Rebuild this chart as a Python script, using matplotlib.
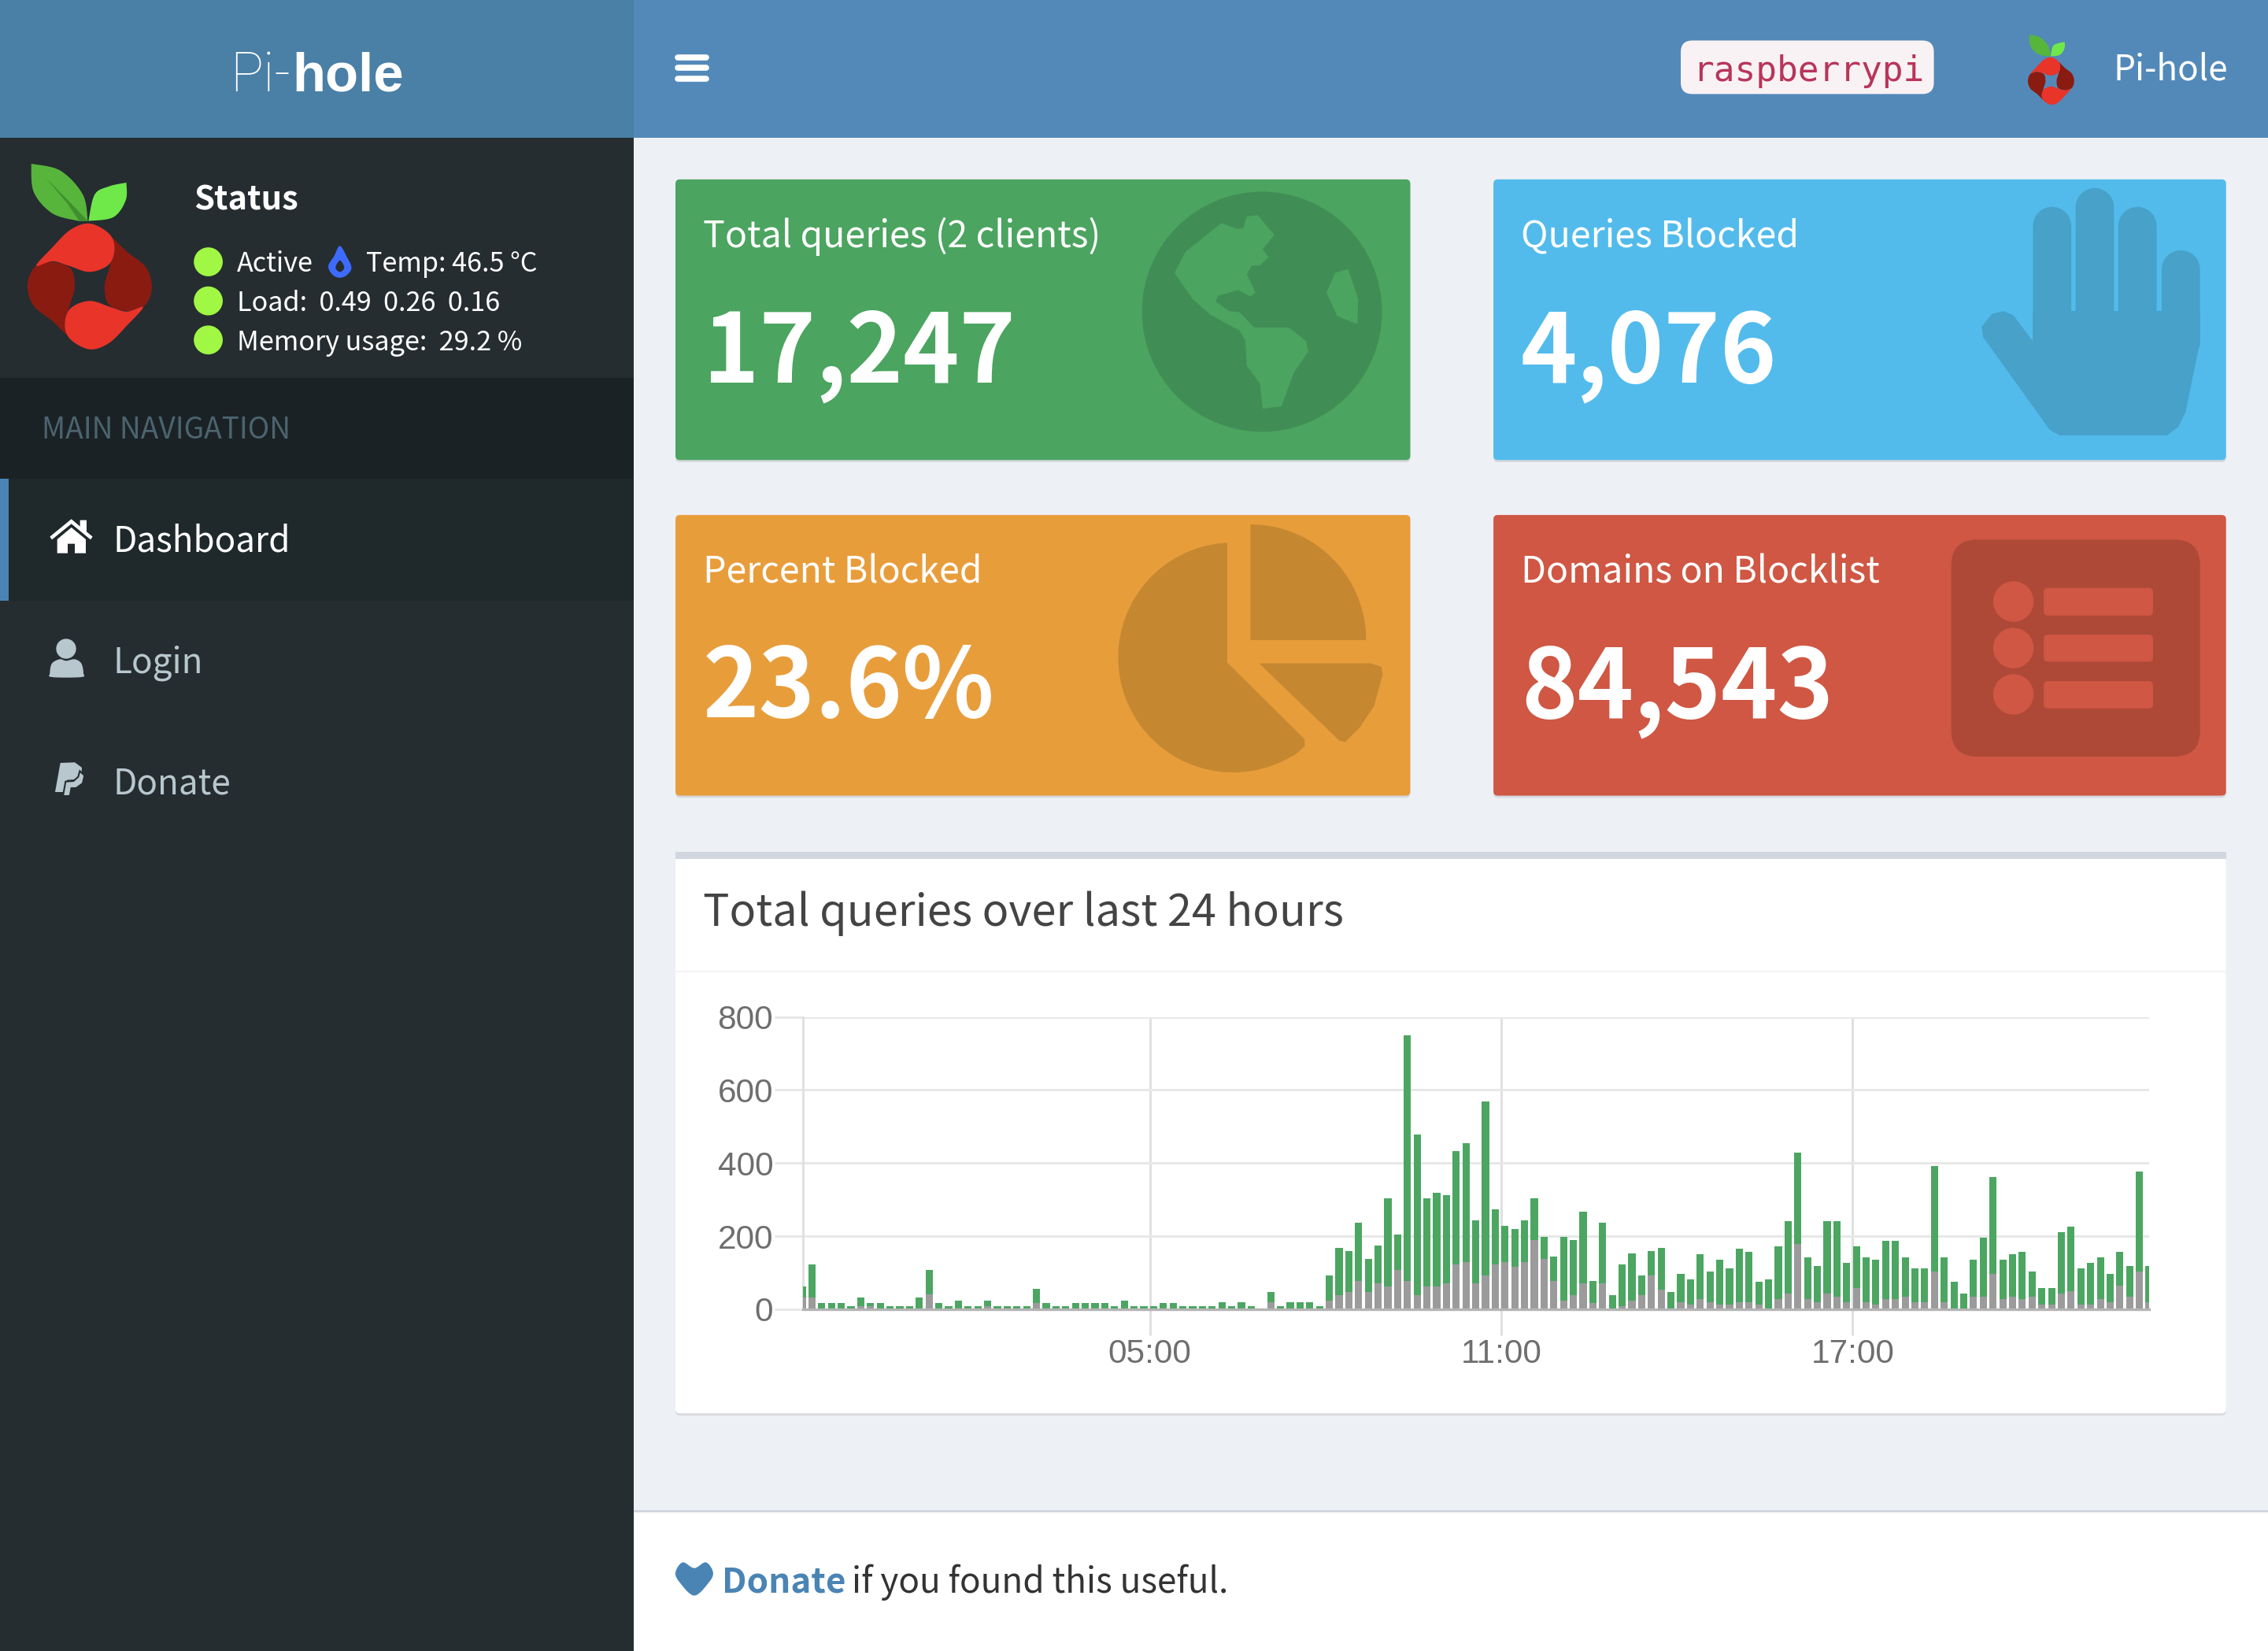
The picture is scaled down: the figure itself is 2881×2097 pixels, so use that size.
import numpy as np
import matplotlib
matplotlib.use('Agg')
import matplotlib.pyplot as plt
from matplotlib.patches import Rectangle, FancyBboxPatch, Circle, Polygon

# values, one bar per 10 minutes
total_queries = [63, 123, 17, 17, 17, 9, 32, 17, 17, 9, 9, 9, 32, 108, 17, 9, 24, 9, 9, 24,
                 9, 9, 9, 9, 55, 17, 9, 9, 17, 17, 17, 17, 9, 24, 9, 9, 9, 17, 17, 9,
                 9, 9, 9, 18, 9, 18, 9, 0, 48, 9, 18, 18, 18, 9, 92, 168, 160, 236, 137, 175,
                 304, 205, 750, 478, 304, 319, 312, 432, 455, 243, 568, 273, 228, 220, 243, 304, 198, 145, 198, 190,
                 266, 77, 236, 39, 122, 152, 92, 160, 168, 47, 96, 81, 150, 104, 135, 112, 165, 158, 74, 81,
                 172, 240, 429, 142, 119, 240, 240, 127, 172, 142, 135, 187, 187, 142, 112, 112, 391, 142, 74, 43,
                 135, 195, 361, 135, 150, 158, 104, 58, 58, 210, 225, 112, 127, 142, 96, 158, 119, 376, 119]
blocked_queries = [32, 32, 0, 0, 0, 0, 9, 9, 0, 0, 0, 0, 0, 40, 0, 0, 0, 0, 0, 9,
                   0, 0, 0, 0, 17, 0, 0, 0, 0, 0, 0, 0, 0, 0, 0, 0, 0, 0, 0, 0,
                   0, 0, 0, 0, 0, 0, 0, 0, 18, 0, 0, 0, 0, 0, 24, 39, 47, 77, 47, 70,
                   62, 107, 77, 39, 62, 62, 70, 122, 130, 70, 92, 122, 130, 115, 130, 190, 137, 77, 24, 39,
                   70, 16, 70, 0, 8, 24, 39, 92, 54, 0, 20, 13, 28, 20, 13, 13, 20, 20, 13, 0,
                   28, 43, 179, 28, 20, 43, 35, 20, 58, 20, 13, 28, 28, 35, 20, 20, 104, 20, 0, 0,
                   35, 35, 96, 28, 35, 28, 35, 13, 13, 43, 50, 13, 13, 28, 20, 65, 35, 104, 20]
time_ticks = [300, 660, 1020]
time_labels = ['05:00', '11:00', '17:00']
y_ticks = [0, 200, 400, 600, 800]

cards = [('Total queries (2 clients)', '17,247'), ('Queries Blocked', '4,076'),
         ('Percent Blocked', '23.6%'), ('Domains on Blocklist', '84,543')]
status_rows = ['Active', 'Load:  0.49  0.26  0.16', 'Memory usage:  29.2 %']
nav_items = ['Dashboard', 'Login', 'Donate']

W, H = 2881, 2097
S = W / 1568  # I measured everything on the 1568 wide view
UI_FONT = ['Noto Sans CJK SC', 'DejaVu Sans']


def fs(px):
    return px * S * 72 / 100


def spline(pts, closed=True, n=10):
    # catmull-rom through the points
    p = np.array(pts, float)
    if closed:
        p = np.vstack([p[-1], p, p[0], p[1]])
    else:
        p = np.vstack([p[0], p, p[-1]])
    out = []
    for i in range(1, len(p) - 2):
        for t in np.linspace(0, 1, n, endpoint=False):
            out.append(0.5 * (2 * p[i] + (p[i + 1] - p[i - 1]) * t
                              + (2 * p[i - 1] - 5 * p[i] + 4 * p[i + 1] - p[i + 2]) * t ** 2
                              + (3 * p[i] - p[i - 1] - 3 * p[i + 1] + p[i + 2]) * t ** 3))
    if not closed:
        out.append(p[-2])
    return np.array(out)


def box(x0, y0, x1, y1, color, r=0, z=1):
    if r:
        ui.add_patch(FancyBboxPatch((x0, y0), x1 - x0, y1 - y0, boxstyle=f'round,pad=0,rounding_size={r}',
                                    fc=color, ec='none', zorder=z))
    else:
        ui.add_patch(Rectangle((x0, y0), x1 - x0, y1 - y0, fc=color, ec='none', zorder=z))


def poly(pts, color, z=3, ec='none', lw=0):
    ui.add_patch(Polygon(pts, closed=True, fc=color, ec=ec, lw=lw, zorder=z))


def label(x, y, s, size, color='white', weight='normal', family=None, ha='left'):
    ui.text(x, y, s, fontsize=fs(size), color=color, fontweight=weight, family=family or UI_FONT,
            ha=ha, va='baseline', zorder=6)


def capsule(x0, x1, ytop, ybot, color):
    r = (x1 - x0) / 2
    a = np.linspace(np.pi, 2 * np.pi, 20)
    top = np.c_[x0 + r + r * np.cos(a), ytop + r + r * np.sin(a)]
    poly(np.vstack([top, [[x1, ybot], [x0, ybot]]]), color)


def arc(cx, cy, r, a0, a1, n=40):
    a = np.radians(np.linspace(a0, a1, n))
    return np.c_[cx + r * np.cos(a), cy + r * np.sin(a)]


def logo(cx, cy, sx, sy, slit=False):
    def tr(pts):
        return np.array(pts, float) * [sx, sy] + [cx, cy]
    top_lobe = [(0, -1), (.31, -.84), (.4, -.61), (.31, -.35), (0, -.23), (-.34, -.33), (-.6, -.4),
                (-.86, -.33), (-.6, -.62), (-.31, -.9)]
    right_lobe = [(.33, -.8), (.6, -.55), (.9, -.31), (1, 0), (.9, .29), (.64, .39), (.31, .29), (.24, 0),
                  (.31, -.27), (.4, -.6)]
    for sign in (1, -1):
        poly(tr(spline(right_lobe) * sign), '#8a1b11', z=3)
    for sign in (1, -1):
        poly(tr(spline(top_lobe) * sign), '#e9342a', z=4)
    left_leaf = np.vstack([spline([(-.03, -1.04), (-.11, -1.46), (-.47, -1.84), (-.94, -1.95)], closed=False),
                           spline([(-.94, -1.95), (-.9, -1.5), (-.6, -1.16), (-.18, -1.04)], closed=False)])
    right_leaf = np.vstack([spline([(-.02, -1.04), (.08, -1.46), (.31, -1.59), (.59, -1.65)], closed=False),
                            spline([(.59, -1.65), (.58, -1.37), (.38, -1.1), (-.02, -1.04)], closed=False)])
    poly(tr(left_leaf), '#57b53b', z=4)
    poly(tr(right_leaf), '#6fe84a', z=4)
    if slit:
        poly(tr([(-.7, -1.72), (-.3, -1.32), (-.03, -1.04), (-.17, -1.04), (-.36, -1.32)]), '#3f8f2e', z=5)


fig = plt.figure(figsize=(W / 100, H / 100), dpi=100, facecolor='#edf0f5')
ui = fig.add_axes([0, 0, 1, 1])
ui.set_xlim(0, W / S)
ui.set_ylim(H / S, 0)
ui.axis('off')

# page blocks
box(438, 0, 1568, 95, '#5289b8')
box(0, 0, 438, 95, '#4a7fa6')
box(0, 95, 438, 1142, '#252d30')
box(0, 261, 438, 331, '#1b2225')
box(0, 331, 438, 415, '#1f282b')
box(0, 331, 6, 415, '#4a84b5')
box(438, 1044, 1568, 1142, 'white')
box(438, 1044, 1568, 1045.5, '#d2d6de')

# header
label(159, 63, 'Pi-', 38, weight='light', family=['Roboto', 'DejaVu Sans'])
label(202, 63, 'hole', 37.5, weight='bold', family=['Liberation Sans'])
for y in (39.5, 47, 54.5):
    ui.plot([468.5, 488], [y, y], color='white', lw=5.5, solid_capstyle='round', zorder=5)
box(1162, 28, 1337, 65, '#f9f2f4', r=8)
label(1170, 56, 'raspberrypi', 24.2, color='#b8355a', family=['DejaVu Sans Mono'])
logo(1418, 56, 16, 16.4)
label(1461, 55, 'Pi-hole', 24)

# status panel
logo(62, 198, 43, 43.5, slit=True)
label(134, 145, 'Status', 22.7, weight='bold')
row_y = [188, 215, 242]
for y, txt in zip(row_y, status_rows):
    ui.add_patch(Circle((144, y - 7), 10, fc='#a0f844', ec='none', zorder=4))
    label(164, y, txt, 18.6)
flame = [(235, 170), (240, 178), (243, 185), (240, 190), (235, 192), (230, 190), (227, 184), (231, 177)]
poly(spline(flame), '#3d6bff')
poly(spline([(235, 180), (238, 185), (235, 188), (232, 185)]), '#252d30', z=4)
label(253, 188, 'Temp: 46.5 °C', 18.6)
label(29, 303, 'MAIN NAVIGATION', 20.2, color='#4b646f')

# nav
nav_y = [381, 465, 549]
for i, (y, txt) in enumerate(zip(nav_y, nav_items)):
    label(78, y, txt, 24, color='white' if i == 0 else '#b8c7ce')


def z11(p):
    return np.array(p, float) / S / 3 + [0, 620 / S]


poly(z11([(190, 185), (272, 118), (305, 146), (305, 122), (330, 122), (330, 166), (353, 185), (345, 196),
          (272, 136), (198, 196)]), 'white')
poly(z11([(218, 195), (272, 150), (327, 195), (327, 248), (285, 248), (285, 212), (258, 212), (258, 248),
          (218, 248)]), 'white')
ui.add_patch(Circle(z11((252, 612)), 38 / S / 3, fc='#b8c7ce', ec='none', zorder=3))
poly(z11(spline([(190, 705), (198, 668), (228, 652), (252, 658), (285, 652), (310, 668), (318, 705), (310, 720),
                 (198, 720)])), '#b8c7ce')
poly(z11([(230, 1047), (285, 1045), (312, 1065), (310, 1090), (285, 1110), (255, 1112), (248, 1158), (210, 1158)]),
     '#b8c7ce')
poly(z11([(304, 1078), (322, 1095), (315, 1125), (290, 1143), (272, 1143), (266, 1173), (240, 1173), (250, 1118),
          (280, 1116), (298, 1100)]), '#b8c7ce', z=4, ec='#252d30', lw=1.5)

# stat cards
card_pos = [(467, 124, 975, 318, '#4ba45f'), (1032.5, 124, 1539, 318, '#52bbec'),
            (467, 356, 975, 550, '#e89d3b'), (1032.5, 356, 1539, 550, '#cf5743')]
for (x0, y0, x1, y1, col), (title, val) in zip(card_pos, cards):
    box(x0, y0 + 2, x1, y1 + 1.5, '#d5d8de', r=3)
    box(x0, y0, x1, y1, col, r=3, z=2)
    label(x0 + 19, y0 + 47, title, 25.3)
    label(x0 + 19, y0 + 140, val, 66, weight='bold')


def z8(p):
    return np.array(p, float) * [0.5, 0.1814] + [762, 119.7]


# globe
ui.add_patch(Circle((872.5, 215.5), 83, fc='#408e55', ec='none', zorder=3))
america = [(200, 165), (215, 160), (238, 235), (222, 290), (230, 320), (218, 352), (207, 352), (200, 385), (212, 455),
           (205, 470), (188, 445), (160, 468), (157, 490), (175, 525), (190, 530), (210, 588), (258, 588), (282, 640),
           (285, 680), (265, 760), (248, 888), (222, 898), (218, 800), (200, 735), (198, 640), (190, 600), (150, 540),
           (125, 480), (100, 380), (115, 300), (165, 190), (185, 212), (195, 210)]
africa = [(340, 365), (322, 380), (310, 455), (325, 545), (353, 575), (354, 480)]
poly(z8(america), '#4ba45f', z=4)
poly(z8(africa), '#4ba45f', z=4)

# hand
hand = '#47a1c9'
capsule(1405.5, 1432, 143, 240, hand)
capsule(1435, 1461.5, 130, 240, hand)
capsule(1464.5, 1491, 143, 240, hand)
capsule(1494.5, 1521, 173, 240, hand)
poly(np.array([(1405.5, 215), (1521, 215), (1521, 236), (1511, 285), (1506, 295), (1498, 301), (1424, 301),
               (1417, 297), (1371, 233), (1370, 226), (1377, 217), (1385, 215), (1392, 218), (1405.5, 236)]), hand)

# pie
pie = '#c58830'
poly(np.vstack([[(848.5, 458), (848.5, 379)], arc(852.5, 454.5, 79.5, -93, -298),
                [(895, 522), (902, 516), (902, 511)]]), pie)
poly(np.vstack([[(864.5, 442.5)], arc(864.5, 442.5, 80, -90, 0)]), pie)
poly(np.array([(870.5, 458.6), (948, 458.6), (955, 461), (956, 466), (950, 488), (940, 503), (930, 513), (926, 512)]), pie)

# list icon
box(1349, 373, 1521, 523, '#ae4937', r=18, z=3)
for cy, y0, y1 in [(415.8, 406.4, 425.6), (448, 438.7, 457.4), (480, 470.8, 489.7)]:
    ui.add_patch(Circle((1392, cy), 14, fc='#cf5743', ec='none', zorder=4))
    box(1413, y0, 1488.5, y1, '#cf5743', r=3, z=4)

# chart box
box(467, 590, 1539, 978.5, '#d8dade', r=3)
box(467, 589, 1539, 977, 'white', r=3, z=2)
box(467, 589, 1539, 594, '#d2d6de', z=3)
box(467, 671, 1539, 672, '#f4f4f4', z=3)
label(486, 640, 'Total queries over last 24 hours', 30.4, color='#444444')

# footer
heart = [(480, 1103), (470, 1094), (467, 1087), (472, 1080), (480, 1084), (488, 1080), (493, 1087), (490, 1094)]
poly(spline(heart), '#4a84b5')
label(499, 1101, 'Donate', 24, color='#4a84b5', weight='bold')
label(589, 1101, 'if you found this useful.', 24, color='#333333')

# the chart itself
ax_left, ax_right, ax_top, ax_bot = 555 * S / W, 1486 * S / W, 1 - 703 * S / H, 1 - 905 * S / H
ax = fig.add_axes([ax_left, ax_bot, ax_right - ax_left, ax_top - ax_bot], facecolor='none', zorder=5)
total = np.array(total_queries)
blocked = np.array(blocked_queries)
bar_minutes = -56.2 + 10 * np.arange(len(total))
ax.bar(bar_minutes, blocked, width=7.4, color='#9b9b9b', zorder=3)
ax.bar(bar_minutes, total - blocked, bottom=blocked, width=7.4, color='#4ca662', zorder=3)
ax.set_xlim(-55.6, 1324)
ax.set_ylim(0, 800)
ax.set_xticks(time_ticks, time_labels)
ax.set_yticks(y_ticks)
ax.set_axisbelow(True)
ax.grid(True, axis='y', color='#e8e8e8', lw=2.2)
ax.grid(True, axis='x', color='#e0e0e0', lw=2.2)
for spine in ('top', 'right'):
    ax.spines[spine].set_visible(False)
ax.spines['left'].set_color('#e0e0e0')
ax.spines['left'].set_linewidth(2.2)
ax.spines['bottom'].set_color('#b4b4b4')
ax.spines['bottom'].set_linewidth(2.4)
ax.spines['bottom'].set_zorder(4)
ax.tick_params(axis='x', length=24, width=2.2, color='#e0e0e0', pad=3, labelsize=30.5, labelcolor='#6e6e6e')
ax.tick_params(axis='y', length=26, width=2.2, color='#e8e8e8', pad=1, labelsize=30.5, labelcolor='#6e6e6e')
ax.yaxis.get_ticklines()[0].set_color('#b4b4b4')
for t in ax.get_xticklabels() + ax.get_yticklabels():
    t.set_family(['Liberation Sans'])

fig.savefig('out.png', dpi=100, facecolor=fig.get_facecolor())
